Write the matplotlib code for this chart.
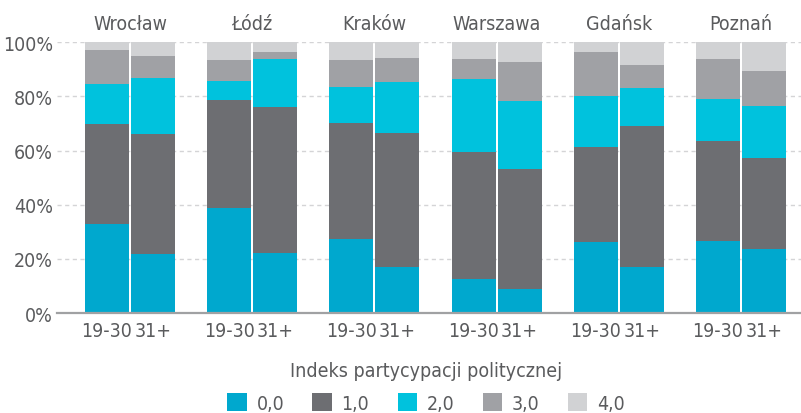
import numpy as np
import matplotlib
matplotlib.use('Agg')
import matplotlib.pyplot as plt
from matplotlib.patches import Patch
from matplotlib import font_manager as fm

# look for a narrow face first, the original uses a condensed font
narrow = None
for f in fm.fontManager.ttflist:
    if 'Narrow' in f.name or 'Condensed' in f.name or f.stretch in ('condensed', 'semi-condensed'):
        narrow = f
        break

if narrow is not None:
    plt.rcParams['font.family'] = [narrow.name, 'DejaVu Sans']
    plt.rcParams['font.stretch'] = narrow.stretch
    fs = 14
else:
    plt.rcParams['font.family'] = ['Roboto', 'DejaVu Sans']
    fs = 13

cities = ['Wrocław', 'Łódź', 'Kraków', 'Warszawa', 'Gdańsk', 'Poznań']
age_groups = ['19-30', '31+']
levels = ['0,0', '1,0', '2,0', '3,0', '4,0']

# shares in %, order: city x age group (19-30, 31+)
share_0 = [32.9, 21.8, 38.8, 22.2, 27.5, 17.1, 12.7, 9.0, 26.2, 17.1, 26.7, 23.8]
share_1 = [36.9, 44.3, 39.9, 53.9, 42.7, 49.4, 46.8, 44.2, 35.1, 52.0, 36.8, 33.5]
share_2 = [14.8, 20.7, 7.0, 17.9, 13.3, 18.8, 27.1, 25.2, 18.9, 14.0, 15.7, 19.2]
share_3 = [12.6, 8.2, 7.8, 2.4, 10.0, 8.8, 7.2, 14.3, 16.2, 8.5, 14.6, 12.9]
share_4 = [2.8, 5.0, 6.5, 3.6, 6.5, 5.9, 6.2, 7.3, 3.6, 8.4, 6.2, 10.6]

colors = ['#00a8ce', '#6d6e72', '#00c2dd', '#a0a1a5', '#d1d2d4']
text_col = '#5a5b5d'

series = [share_0, share_1, share_2, share_3, share_4]

fig = plt.figure(figsize=(8.01, 4.14), dpi=100)
ax = fig.add_axes([57 / 801, 1 - 314 / 414, 744 / 801, 270.7 / 414])

group_x = np.arange(len(cities))
offset = 0.188
width = 0.36
xs = np.ravel(np.column_stack([group_x - offset, group_x + offset]))

bottom = np.zeros(len(xs))
for vals, c in zip(series, colors):
    ax.bar(xs, vals, width=width, bottom=bottom, color=c, linewidth=0, zorder=3)
    bottom += np.array(vals)

ax.set_ylim(0, 100)
ax.set_xlim(-0.597, 5.491)
ax.set_yticks(range(0, 101, 20))
ax.set_yticklabels([f'{v}%' for v in range(0, 101, 20)])
ax.set_xticks(xs)
ax.set_xticklabels(age_groups * len(cities))
ax.tick_params(axis='both', length=0, labelsize=fs, colors=text_col)
ax.tick_params(axis='y', pad=3)
ax.tick_params(axis='x', pad=6)

for y in range(20, 101, 20):
    ax.axhline(y, color='#d4d4d6', lw=1, linestyle=(0, (3, 2.5)), zorder=1)
ax.axhline(0, color='#a0a1a3', lw=1.6, zorder=4, clip_on=False)

for s in ax.spines.values():
    s.set_visible(False)

for i, city in enumerate(cities):
    ax.text(i, 104.9, city, ha='center', va='baseline', fontsize=fs, color=text_col)

fig.text(426 / 801, 1 - 372 / 414, 'Indeks partycypacji politycznej',
         ha='center', va='center', fontsize=fs, color=text_col)

handles = [Patch(facecolor=c, edgecolor='none') for c in colors]
leg = fig.legend(handles, levels, loc='center', bbox_to_anchor=(426 / 801, 1 - 404 / 414),
                 ncol=5, frameon=False, fontsize=fs, handlelength=1.0, handleheight=1.0,
                 handletextpad=0.5, columnspacing=1.45, borderaxespad=0, borderpad=0)
for t in leg.get_texts():
    t.set_color(text_col)

fig.savefig('out.png', dpi=100)
